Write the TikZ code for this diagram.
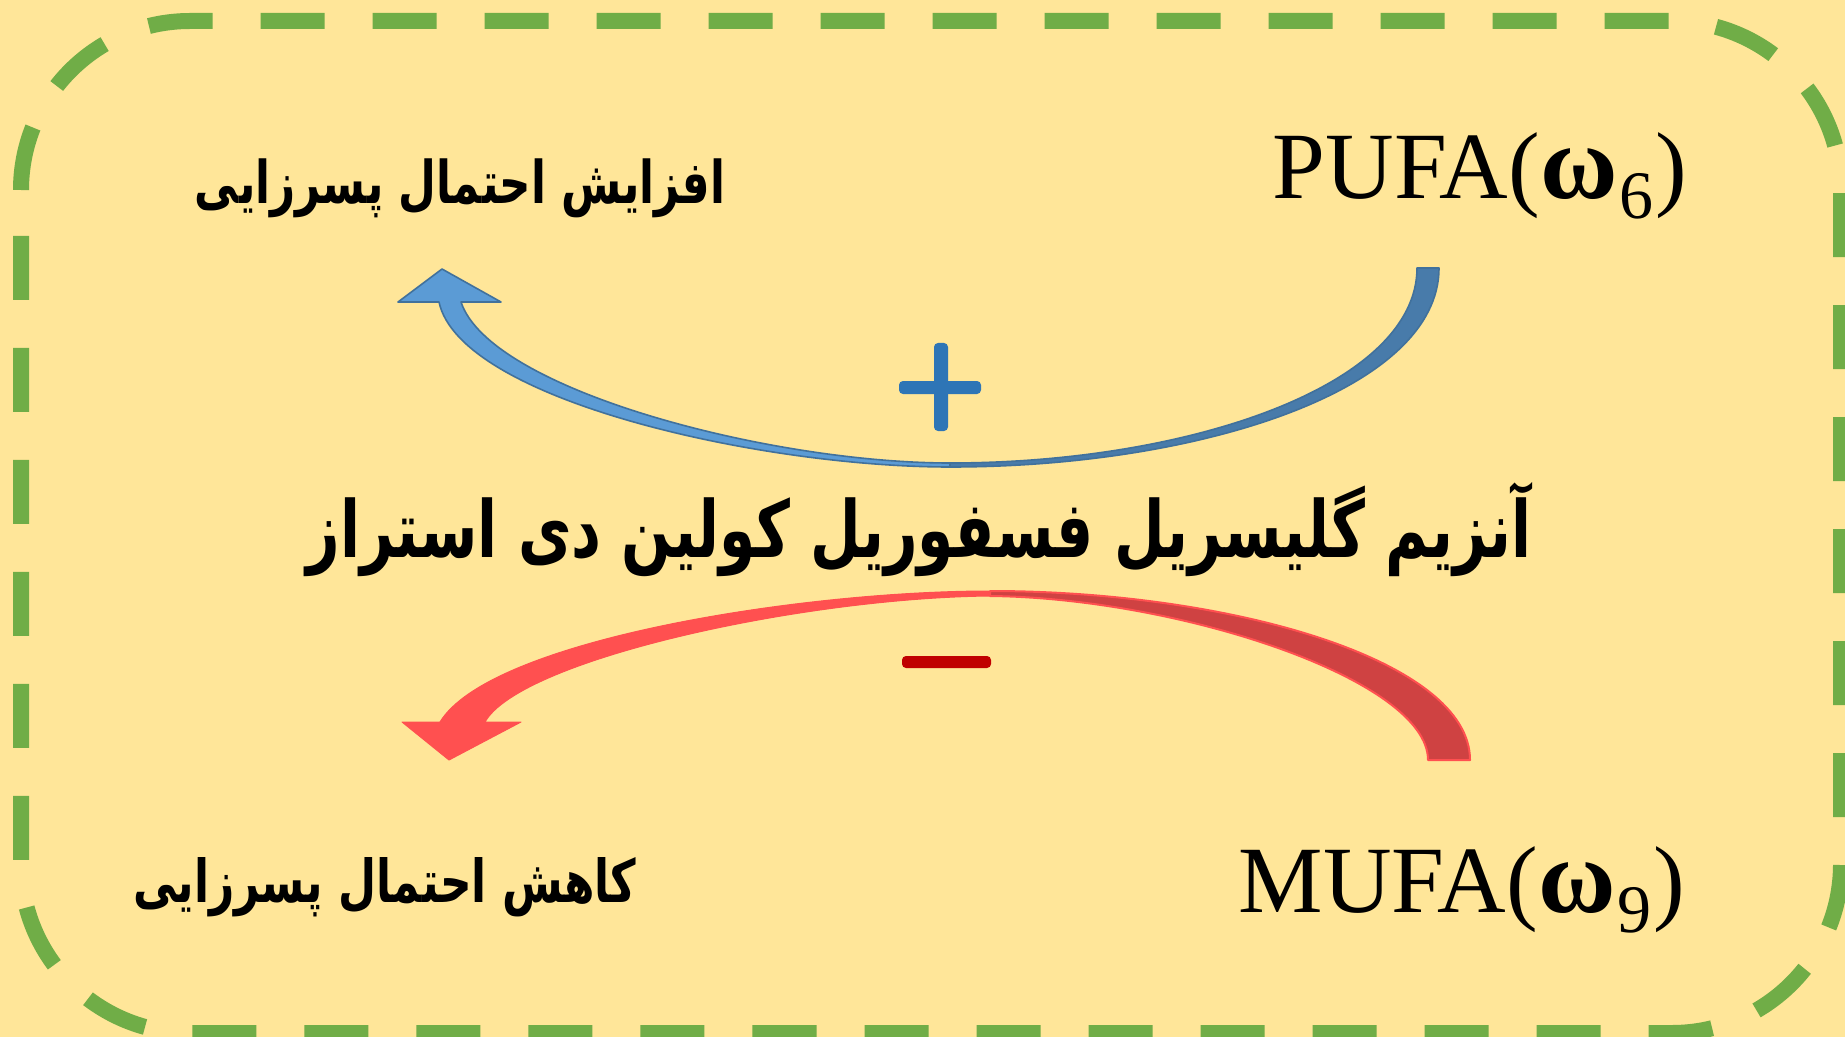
\documentclass[tikz,border=0pt]{standalone}
\usepackage{fontspec}
\setmainfont{Liberation Serif}
\newfontfamily\fa[Script=Arabic]{DejaVu Sans}
\TeXXeTstate=1
\usepackage{graphicx}

\definecolor{paper}{HTML}{FFE699}
\definecolor{frame}{HTML}{70AD47}
\definecolor{bluefront}{HTML}{5B9BD5}
\definecolor{blueback}{HTML}{487BAA}
\definecolor{blueline}{HTML}{41719C}
\definecolor{redfront}{HTML}{FF5050}
\definecolor{redback}{HTML}{CF4242}
\definecolor{plusblue}{HTML}{2E75B6}
\definecolor{minusred}{HTML}{C00000}

\tikzset{
  border/.style={draw=frame, line width=8pt, dash pattern=on 32pt off 24pt,
                 dash phase=0pt},
  upback/.style={fill=blueback, draw=blueline, line width=0.8pt, line join=round},
  upfront/.style={fill=bluefront, draw=blueline, line width=0.8pt, line join=round},
  downback/.style={fill=redback, draw=redfront, line width=1pt, line join=round},
  downfront/.style={fill=redfront, draw=redfront, line width=0.5pt, line join=round},
  latin/.style={inner sep=0pt, font=\fontsize{47.5}{50}\selectfont},
  persian/.style={inner sep=0pt, font=\fa\bfseries},
}

% Persian label: fitted to a width, then stretched vertically
\newcommand\faLabel[2]{\scalebox{1}[1.35]{\resizebox{#1}{!}{#2}}}
% fatty-acid label with bold omega and lowered index
\newcommand\omegaIdx[1]{{\fontsize{53}{55}\selectfont\textbf{ω}}\kern1pt\raisebox{-10pt}{\fontsize{34}{34}\selectfont #1}\kern1pt}

\begin{document}
\begin{tikzpicture}[x=0.5pt, y=-0.5pt]
\useasboundingbox (0,0) rectangle (1845,1037);
\fill[paper] (0,0) rectangle (1845,1037);

% dashed rounded frame, traced clockwise from the top of the left side
\draw[border] (21,190)
  arc[start angle=180, end angle=90, radius=84.5pt] -- (1672,21)
  arc[start angle=90, end angle=0, radius=84.5pt] -- (1841,864)
  arc[start angle=0, end angle=-90, radius=84.5pt] -- (190,1033)
  arc[start angle=-90, end angle=-180, radius=84.5pt] -- cycle;

% labels
\node[latin, anchor=base] (pufa) at (1480,199) {PUFA(\omegaIdx{6})};
\node[latin, anchor=base] (mufa) at (1462,912) {MUFA(\omegaIdx{9})};
\node[persian] (rise) at (460,188)
  {\faLabel{265pt}{\beginR افزایش احتمال پسرزایی\endR}};
\node[persian] (fall) at (385,887)
  {\faLabel{251.5pt}{\beginR کاهش احتمال پسرزایی\endR}};
\node[persian] (enzyme) at (919,530)
  {\faLabel{612pt}{\beginR آنزیم گلیسریل فسفوریل کولین دی استراز\endR}};

% upper curved arrow (PUFA -> increase)
\path[upback] (1417,268) -- (1439,268)
  .. controls (1439,390) and (1200,467) .. (950,467)
  -- (950,463)
  .. controls (1190,463) and (1417,385) .. (1417,268) -- cycle;
\path[upfront] (442,269) -- (501,302) -- (461,302)
  .. controls (490,390) and (770,463) .. (950,463)
  -- (950,467)
  .. controls (760,467) and (460,400) .. (439,302)
  -- (398,302) -- cycle;

% lower curved arrow (MUFA -> decrease)
\path[downback] (1428,760) -- (1470,760)
  .. controls (1470,660) and (1230,591) .. (990,591)
  -- (990,596)
  .. controls (1180,598) and (1428,680) .. (1428,760) -- cycle;
\path[downfront] (449,760) -- (521,722) -- (485,722)
  .. controls (520,660) and (800,598) .. (990,596)
  -- (990,591)
  .. controls (800,591) and (490,640) .. (440,722)
  -- (402,722) -- cycle;

% plus and minus signs
\fill[plusblue, rounded corners=2pt] (899,381) rectangle (981,394);
\fill[plusblue, rounded corners=2pt] (934,343) rectangle (948,431);
\fill[minusred, rounded corners=2pt] (902,656) rectangle (991,668);
\end{tikzpicture}
\end{document}
